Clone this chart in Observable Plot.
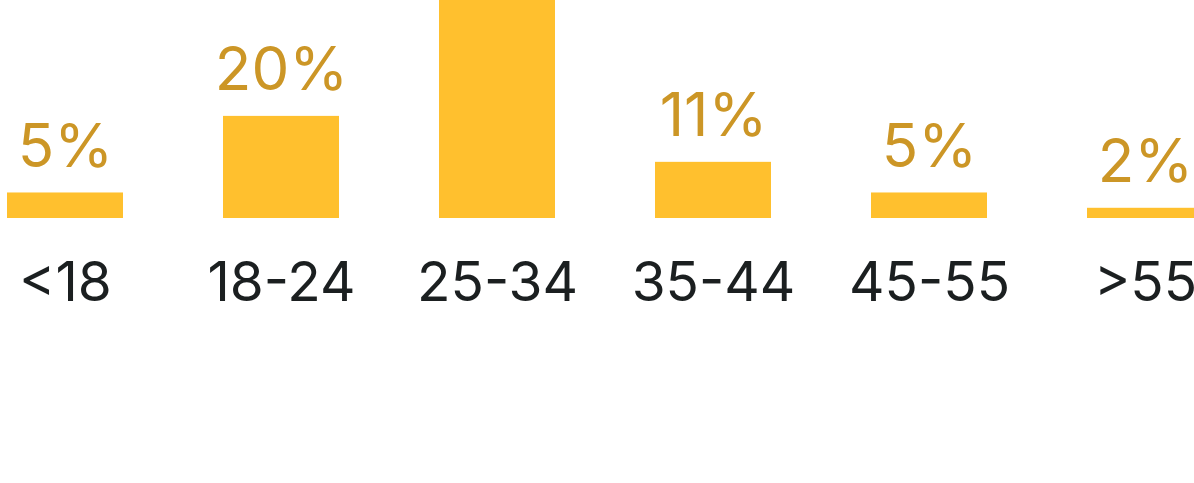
<!DOCTYPE html>
<html>
<head>
<meta charset="utf-8">
<script src="https://cdn.jsdelivr.net/npm/d3@7"></script>
<script src="https://cdn.jsdelivr.net/npm/@observablehq/plot@0.6"></script>
<style>
  html, body { margin: 0; padding: 0; background: #fff; overflow: hidden; }
</style>
</head>
<body>
<div id="chart"></div>
<script>
const categories = ["<18", "18-24", "25-34", "35-44", "45-55", ">55"];
const shares = [5, 20, 57, 11, 5, 2];
const shareLabels = ["5%", "20%", "57%", "11%", "5%", "2%"];

const data = categories.map((c, i) => ({category: c, share: shares[i], label: shareLabels[i]}));

const chart = Plot.plot({
  width: 1194,
  height: 483,
  marginTop: 0,
  marginBottom: 265,
  marginLeft: 0,
  marginRight: 0,
  style: {fontFamily: "Inter, 'Noto Sans', sans-serif", background: "#fff", overflow: "hidden"},
  x: {domain: categories, range: [-43, 1253.6], paddingInner: 0.463, paddingOuter: 0.2315, axis: null},
  y: {domain: [0, 42.7], axis: null},
  marks: [
    Plot.barY(data, {x: "category", y: "share", fill: "#FFC02E"}),
    Plot.text(data, {x: "category", y: "share", text: "label", lineAnchor: "bottom", dy: -26, fontSize: 60, fill: "#CC9626"}),
    Plot.text(data, {x: "category", frameAnchor: "bottom", text: "category", lineAnchor: "bottom", dy: 82, fontSize: 55, fill: "#1b1f20"})
  ]
});
document.getElementById("chart").append(chart);
</script>
</body>
</html>
